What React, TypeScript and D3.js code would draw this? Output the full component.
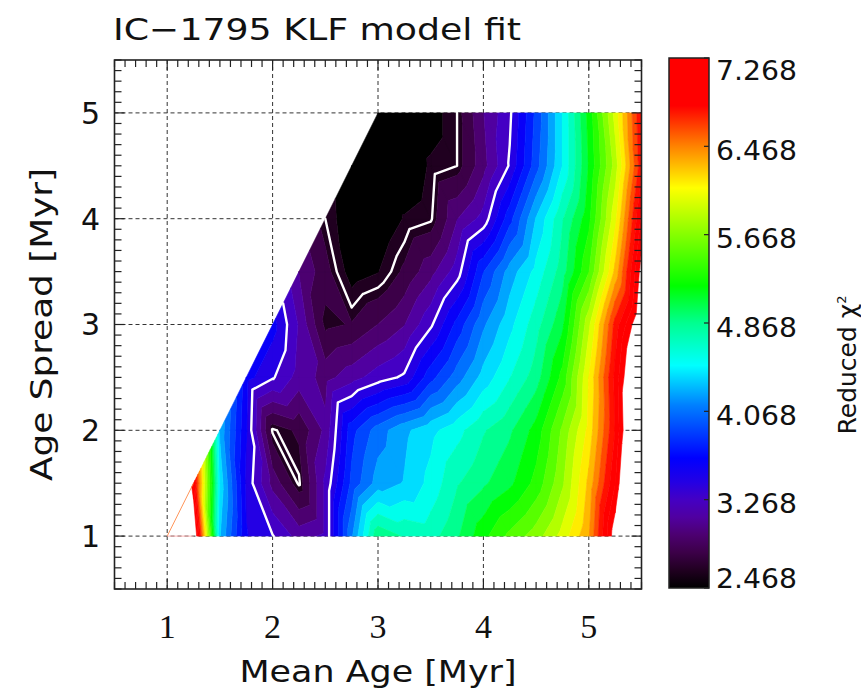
import * as d3 from "d3";

// grid of the KLF fit (mean age along x, age spread along y)
const meanAge = [1.0, 1.25, 1.5, 1.75, 2.0, 2.25, 2.5, 2.75, 3.0, 3.25, 3.5, 3.75, 4.0, 4.25, 4.5, 4.75, 5.0, 5.25, 5.5];
const ageSpread = [1.0, 1.5, 2.0, 2.5, 3.0, 3.5, 4.0, 4.5, 5.0];
const _ = null;
// reduced chi^2, one row per age spread; null where no model exists
const chi2: (number | null)[][] = [
  [9.5, 7.65, 4.4, 3.6, 3.44, 3.2, 3.3, 4.2, 5.0, 4.85, 4.8, 5.0, 5.3, 5.55, 5.75, 6.05, 6.45, 7.4, 8.5],
  [_, 7.1, 4.5, 3.55, 3.05, 2.7, 3.3, 3.95, 4.3, 4.4, 4.6, 4.85, 5.0, 5.15, 5.4, 5.8, 6.35, 7.1, 8.2],
  [_, _, 4.35, 3.6, 2.7, 2.82, 3.15, 3.85, 4.15, 4.35, 4.5, 4.65, 4.85, 5.0, 5.25, 5.7, 6.2, 6.95, 8.0],
  [_, _, _, 3.65, 3.45, 3.2, 3.05, 3.2, 3.35, 3.46, 3.85, 4.15, 4.45, 4.7, 4.95, 5.4, 6.15, 7.0, 7.8],
  [_, _, _, _, 3.65, 3.25, 2.75, 2.8, 2.95, 3.1, 3.4, 3.8, 4.2, 4.5, 4.8, 5.15, 5.95, 6.85, 7.5],
  [_, _, _, _, _, 3.1, 2.85, 2.55, 2.62, 2.82, 3.05, 3.35, 3.9, 4.3, 4.6, 4.95, 5.5, 6.35, 7.35],
  [_, _, _, _, _, _, 2.72, 2.5, 2.48, 2.64, 2.7, 3.1, 3.33, 3.85, 4.4, 4.85, 5.3, 6.1, 7.15],
  [_, _, _, _, _, _, _, 2.48, 2.48, 2.49, 2.65, 2.72, 3.05, 3.45, 4.0, 4.55, 5.2, 5.9, 6.9],
  [_, _, _, _, _, _, _, _, 2.48, 2.5, 2.55, 2.72, 3.1, 3.4, 3.95, 4.55, 5.25, 6.05, 6.95],
];

const chiMin = 2.468;
const chiMax = 7.268;
const nLevels = 30;
const lineLevels = [2.72, 3.43];
const barLabels = ["2.468", "3.268", "4.068", "4.868", "5.668", "6.468", "7.268"];
const axisTicks = [1, 2, 3, 4, 5];

// rainbow table (fraction of range -> colour)
const cmapStops = [0, 0.033, 0.067, 0.1, 0.133, 0.167, 0.2, 0.245, 0.345, 0.42, 0.5, 0.57, 0.755, 0.835, 0.91, 1];
const cmapColors = ["#000000", "#200020", "#3c0048", "#4c0070", "#5000a0", "#4400c4", "#2400e4", "#0000ff", "#0080ff", "#00ffff", "#00ff90", "#00ff00", "#ffff00", "#ff8000", "#ff0000", "#ff0000"];

const W = 861;
const H = 691;
const plot = { left: 114.5, right: 641.5, top: 60, bottom: 589 };
const bar = { left: 669, right: 709, top: 58, bottom: 588 };

type P = { x: number; y: number; v: number };

function clipPoly(poly: P[], level: number, keepAbove: boolean): P[] {
  const out: P[] = [];
  for (let k = 0; k < poly.length; k++) {
    const p = poly[k];
    const q = poly[(k + 1) % poly.length];
    const pin = keepAbove ? p.v >= level : p.v < level;
    const qin = keepAbove ? q.v >= level : q.v < level;
    if (pin) out.push(p);
    if (pin !== qin) {
      const t = (level - p.v) / (q.v - p.v);
      out.push({ x: p.x + t * (q.x - p.x), y: p.y + t * (q.y - p.y), v: level });
    }
  }
  return out;
}

export default function App() {
  const x = d3.scaleLinear([0.5, 5.5], [plot.left, plot.right]);
  const y = d3.scaleLinear([0.5, 5.5], [plot.bottom, plot.top]);
  const cmap = d3.scaleLinear<string>().domain(cmapStops).range(cmapColors).interpolate(d3.interpolateRgb);
  const levels = d3.range(nLevels + 1).map((k) => chiMin + (k * (chiMax - chiMin)) / nLevels);

  // triangulate the grid
  const tris: P[][] = [];
  const pt = (i: number, j: number): P | null => {
    const v = chi2[j][i];
    return v == null ? null : { x: meanAge[i], y: ageSpread[j], v };
  };
  for (let j = 0; j < ageSpread.length - 1; j++) {
    for (let i = 0; i < meanAge.length - 1; i++) {
      const a = pt(i, j), b = pt(i + 1, j), c = pt(i + 1, j + 1), d = pt(i, j + 1);
      if (a && b && c && d) tris.push([a, b, d], [b, c, d]);
      else if (a && b && c) tris.push([a, b, c]);
    }
  }

  const toPath = (poly: P[]) =>
    "M" + poly.map((p) => `${x(p.x).toFixed(2)},${y(p.y).toFixed(2)}`).join("L") + "Z";

  const bands = d3.range(nLevels).map((k) => {
    const lo = k === 0 ? -Infinity : levels[k];
    const hi = levels[k + 1];
    let d = "";
    tris.forEach((t) => {
      const poly = clipPoly(clipPoly(t, lo, true), hi, false);
      if (poly.length >= 3) d += toPath(poly);
    });
    return { d, color: cmap(k / nLevels) };
  });

  const lines = lineLevels.map((L) => {
    let d = "";
    tris.forEach((t) => {
      const pts: P[] = [];
      for (let k = 0; k < 3; k++) {
        const p = t[k], q = t[(k + 1) % 3];
        if (p.v < L !== q.v < L) {
          const f = (L - p.v) / (q.v - p.v);
          pts.push({ x: p.x + f * (q.x - p.x), y: p.y + f * (q.y - p.y), v: L });
        }
      }
      if (pts.length === 2)
        d += `M${x(pts[0].x).toFixed(2)},${y(pts[0].y).toFixed(2)}L${x(pts[1].x).toFixed(2)},${y(pts[1].y).toFixed(2)}`;
    });
    return d;
  });

  const minor = d3.range(5, 56).map((v) => v / 10).filter((v) => Math.abs(v - Math.round(v)) > 1e-6);
  const barY = d3.scaleLinear([chiMin, chiMax], [bar.bottom, bar.top]);
  const font = "'DejaVu Sans', sans-serif";
  const ink = "#111";

  return (
    <svg width={W} height={H} style={{ position: "absolute", left: 0, top: 0 }} fontFamily={font}>
      <defs>
        <linearGradient id="cbar" x1="0" y1="1" x2="0" y2="0">
          {cmapStops.map((s, i) => (
            <stop key={i} offset={s} stopColor={cmapColors[i]} />
          ))}
        </linearGradient>
        <clipPath id="plotClip">
          <rect x={plot.left} y={plot.top} width={plot.right - plot.left} height={plot.bottom - plot.top} />
        </clipPath>
      </defs>
      <rect width={W} height={H} fill="#fff" />

      {/* dashed grid */}
      <g stroke="#333" strokeWidth={1} strokeDasharray="4,3">
        {axisTicks.map((t) => (
          <line key={"gx" + t} x1={x(t)} x2={x(t)} y1={plot.top} y2={plot.bottom} />
        ))}
        {axisTicks.map((t) => (
          <line key={"gy" + t} y1={y(t)} y2={y(t)} x1={plot.left} x2={plot.right} />
        ))}
      </g>

      <g clipPath="url(#plotClip)">
        {bands.map((b, k) => (
          <path key={k} d={b.d} fill={b.color} stroke={b.color} strokeWidth={0.6} strokeLinejoin="round" />
        ))}
        <line
          x1={x(meanAge[0])} y1={y(ageSpread[0])} x2={x(meanAge[1])} y2={y(ageSpread[1])}
          stroke="#ff7a30" strokeWidth={0.8}
        />
        <line
          x1={x(meanAge[0])} y1={y(ageSpread[0])} x2={x(meanAge[1])} y2={y(ageSpread[0])}
          stroke="#ffb4b4" strokeWidth={1}
        />
        {lines.map((d, i) => (
          <path key={i} d={d} fill="none" stroke="#fff" strokeWidth={2.4} strokeLinecap="round" />
        ))}
      </g>

      {/* frame and ticks */}
      <rect x={plot.left} y={plot.top} width={plot.right - plot.left} height={plot.bottom - plot.top} fill="none" stroke="#222" strokeWidth={1.6} />
      <g stroke="#222" strokeWidth={1.2}>
        {minor.map((v) => (
          <g key={"m" + v}>
            <line x1={x(v)} x2={x(v)} y1={plot.bottom} y2={plot.bottom - 7} />
            <line x1={x(v)} x2={x(v)} y1={plot.top} y2={plot.top + 7} />
            <line y1={y(v)} y2={y(v)} x1={plot.left} x2={plot.left + 7} />
            <line y1={y(v)} y2={y(v)} x1={plot.right} x2={plot.right - 7} />
          </g>
        ))}
        {axisTicks.map((v) => (
          <g key={"M" + v}>
            <line x1={x(v)} x2={x(v)} y1={plot.bottom} y2={plot.bottom - 10} />
            <line x1={x(v)} x2={x(v)} y1={plot.top} y2={plot.top + 10} />
            <line y1={y(v)} y2={y(v)} x1={plot.left} x2={plot.left + 10} />
            <line y1={y(v)} y2={y(v)} x1={plot.right} x2={plot.right - 10} />
          </g>
        ))}
      </g>

      {/* tick labels */}
      {axisTicks.map((v) => (
        <text key={"xl" + v} x={x(v)} y={638} textAnchor="middle" fontSize={34} fontFamily="'Liberation Serif', serif" fill={ink}>
          {v}
        </text>
      ))}
      {axisTicks.map((v) => (
        <text key={"yl" + v} x={100} y={y(v)} dy="0.36em" textAnchor="end" fontSize={30} fill={ink}>
          {v}
        </text>
      ))}

      <text x={113} y={40} fontSize={31} fill={ink} textLength={408} lengthAdjust="spacingAndGlyphs">
        IC−1795 KLF model fit
      </text>
      <text x={x(3)} y={682} textAnchor="middle" fontSize={30} fill={ink} textLength={277} lengthAdjust="spacingAndGlyphs">
        Mean Age [Myr]
      </text>
      <text
        transform={`translate(52,${y(3)}) rotate(-90)`}
        textAnchor="middle" fontSize={30} fill={ink} textLength={313} lengthAdjust="spacingAndGlyphs"
      >
        Age Spread [Myr]
      </text>

      {/* colour bar */}
      <rect x={bar.left} y={bar.top} width={bar.right - bar.left} height={bar.bottom - bar.top} fill="url(#cbar)" stroke="#222" strokeWidth={1.5} />
      <g stroke="#222" strokeWidth={1.2}>
        {barLabels.map((s) => (
          <line key={s} x1={bar.right} x2={bar.right - 5} y1={barY(+s)} y2={barY(+s)} />
        ))}
      </g>
      {barLabels.map((s) => {
        const yy = Math.min(Math.max(barY(+s) + 4, bar.top + 12), bar.bottom - 10);
        return (
          <text key={"b" + s} x={716} y={yy} dy="0.36em" fontSize={27} fill={ink} textLength={81} lengthAdjust="spacingAndGlyphs">
            {s}
          </text>
        );
      })}
      <text transform={`translate(856,365) rotate(-90)`} textAnchor="middle" fontSize={25} fill={ink}>
        Reduced χ<tspan dy="-10" fontSize={13}>2</tspan>
      </text>
    </svg>
  );
}
